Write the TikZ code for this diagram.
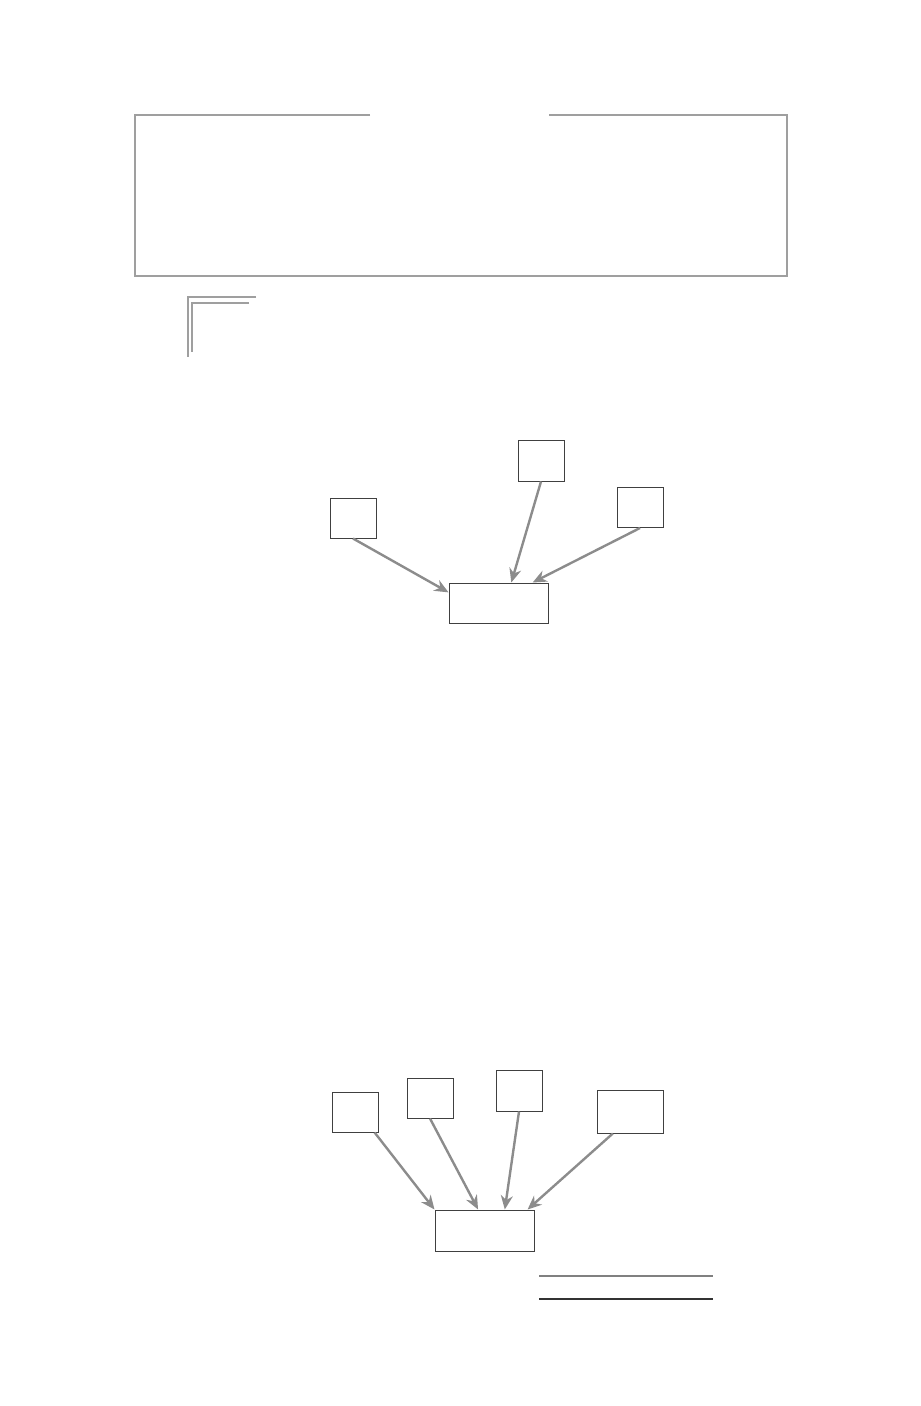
\documentclass[tikz,border=0pt]{standalone}
\usepackage{tikz}
\usetikzlibrary{arrows.meta}
\tikzset{>={Stealth[length=7pt,width=6pt]}}
\tikzset{
  frameline/.style={line width=1.1pt,gray!75},
  cell/.style={draw=black!75,line width=0.5pt,inner sep=0pt,minimum width=23pt,minimum height=20pt},
  sink/.style={cell,minimum width=49.5pt},
  feed/.style={->,line width=1.2pt,gray!90}
}
\begin{document}
\begin{tikzpicture}[x=0.5pt,y=-0.5pt]
\useasboundingbox (0,0) rectangle (920,1406);
    % top frame with gap
    \draw[frameline] (370,115) -- (135,115) -- (135,276) -- (787,276) -- (787,115) -- (549,115);
    \draw[frameline,line width=0.8pt] (256,297) -- (188,297) -- (188,357);
    \draw[frameline,line width=0.8pt] (249,303) -- (192,303) -- (192,352);
    % first diagram
    \node[cell] (a) at (353,518) {};
    \node[cell] (b) at (541,461) {};
    \node[cell] (c) at (640,507.5) {};
    \node[sink] (t) at (498.5,603) {};
    \draw[feed] (a.south) -- (t.168);
    \draw[feed] (b.south) -- (t.58);
    \draw[feed] (c.south) -- (t.31);
    % second diagram
    \node[cell] (d) at (355.5,1112) {};
    \node[cell] (e) at (430,1098) {};
    \node[cell,minimum height=20.5pt] (f) at (519,1090.5) {};
    \node[cell,minimum width=33pt,minimum height=21.5pt] (g) at (630,1111.5) {};
    \node[sink,minimum height=20.5pt] (u) at (484.5,1230.5) {};
    \draw[feed] (d.-47) -- (u.north west);
    \draw[feed] (e.south) -- (u.107);
    \draw[feed] (f.south) -- (u.46);
    \draw[feed] (g.-128) -- (u.26);
    % rules under it
    \draw[gray,line width=0.7pt] (539,1276) -- (713,1276);
    \draw[black!80,line width=0.7pt] (539,1299) -- (713,1299);
\end{tikzpicture}
\end{document}
